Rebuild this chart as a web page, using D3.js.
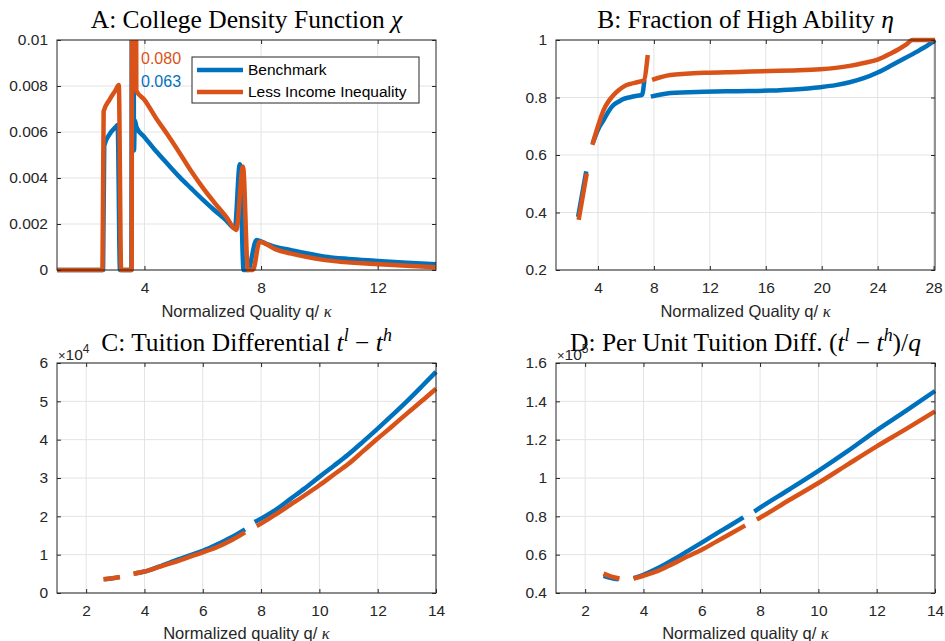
<!DOCTYPE html>
<html>
<head>
<meta charset="utf-8">
<script src="https://cdn.jsdelivr.net/npm/d3@7"></script>
<style>
  html, body { margin: 0; padding: 0; background: #fff; }
  svg { display: block; }
</style>
</head>
<body>
<svg id="chart" width="945" height="641"></svg>
<script>
// ---------------- DATA ----------------
const seriesNames = ["Benchmark", "Less Income Inequality"];

// Panel A: college density
const qA_bench = [1, 2.58, 2.62, 2.8, 3.0, 3.08, 3.16, 3.55, 3.6, 3.64, 3.67, 3.73, 4.0, 4.4, 4.8, 5.2, 5.6, 6.0, 6.4, 6.8, 7.1, 7.27, 7.4, 7.55, 7.84, 8.2, 8.5, 9.0, 9.5, 10.2, 11.0, 11.9, 13.0, 14.0];
const vA_bench = [0, 0, 0.0054, 0.0059, 0.0062, 0.0063, 0, 0, 0.063, 0.0052, 0.0065, 0.0062, 0.00578, 0.00516, 0.0046, 0.00405, 0.00355, 0.00306, 0.0026, 0.00216, 0.00181, 0.0046, 0, 0, 0.0013, 0.00113, 0.001, 0.00087, 0.00074, 0.00058, 0.00048, 0.0004, 0.00031, 0.00025];
const qA_less = [1, 2.56, 2.6, 2.8, 3.0, 3.12, 3.2, 3.56, 3.6, 3.72, 4.0, 4.4, 4.8, 5.2, 5.6, 6.0, 6.4, 6.8, 7.15, 7.38, 7.55, 7.72, 7.95, 8.5, 9.0, 10.2, 11.9, 13.0, 14.0];
const vA_less = [0, 0, 0.0069, 0.0074, 0.0078, 0.00804, 0, 0, 0.080, 0.0078, 0.0074, 0.0066, 0.00587, 0.0051, 0.0043, 0.00358, 0.00293, 0.00232, 0.00174, 0.0045, 0, 0, 0.00123, 0.0009, 0.00072, 0.00043, 0.00026, 0.00018, 0.00012];
const peakLabels = ["0.080", "0.063"];

// Panel B: fraction of high ability (null = gap)
const qB_bench = [2.58, 3.16, 3.4, 3.62, 4.0, 4.41, 4.8, 5.12, 5.5, 5.84, 6.3, 6.8, 7.15, 7.32, 7.5, 7.78, 9.2, 11.6, 14.0, 16.3, 18.0, 19.9, 21.0, 22.0, 23.0, 24.0, 25.0, 26.0, 27.0, 28.0, 28.1];
const vB_bench = [0.385, 0.543, null, 0.64, 0.688, 0.722, 0.755, 0.774, 0.786, 0.795, 0.801, 0.806, 0.809, 0.861, null, 0.803, 0.816, 0.820, 0.822, 0.824, 0.828, 0.836, 0.843, 0.853, 0.867, 0.887, 0.912, 0.938, 0.965, 0.996, 1.0];
const qB_less = [2.62, 3.2, 3.4, 3.6, 4.0, 4.41, 4.8, 5.12, 5.5, 5.84, 6.3, 6.8, 7.27, 7.56, 7.7, 7.87, 9.18, 11.6, 14.0, 16.3, 18.0, 19.9, 21.0, 22.0, 23.0, 24.0, 25.0, 25.5, 26.0, 26.5, 27.3, 28.1];
const vB_less = [0.374, 0.536, null, 0.635, 0.70, 0.757, 0.79, 0.809, 0.826, 0.838, 0.847, 0.853, 0.859, 0.948, null, 0.861, 0.878, 0.886, 0.889, 0.892, 0.894, 0.898, 0.903, 0.91, 0.92, 0.932, 0.955, 0.968, 0.983, 1.0, 1.0, 1.0];

// Panel C: tuition differential (x 10^4)
const qC_bench = [2.62, 2.9, 3.15, 3.4, 3.65, 4.0, 4.5, 5.0, 5.5, 6.0, 6.5, 7.0, 7.45, 7.6, 7.78, 8.0, 8.5, 9.0, 9.5, 10.0, 10.5, 11.0, 11.5, 12.0, 12.5, 13.0, 13.5, 14.0];
const vC_bench = [0.36, 0.385, 0.415, null, 0.51, 0.56, 0.69, 0.83, 0.97, 1.10, 1.27, 1.46, 1.66, null, 1.85, 1.94, 2.17, 2.45, 2.73, 3.03, 3.32, 3.62, 3.95, 4.29, 4.64, 5.0, 5.38, 5.77];
const qC_less = [2.59, 2.9, 3.16, 3.4, 3.62, 4.0, 4.5, 5.0, 5.5, 6.0, 6.5, 7.0, 7.45, 7.6, 7.85, 8.0, 8.5, 9.0, 9.5, 10.0, 10.5, 11.0, 11.5, 12.0, 12.5, 13.0, 13.5, 14.0];
const vC_less = [0.357, 0.385, 0.417, null, 0.50, 0.56, 0.68, 0.80, 0.93, 1.06, 1.20, 1.38, 1.58, null, 1.75, 1.81, 2.05, 2.30, 2.55, 2.81, 3.09, 3.37, 3.70, 4.03, 4.35, 4.68, 5.00, 5.33];

// Panel D: per unit tuition differential (x 10^5)
const qD_bench = [2.63, 2.9, 3.15, 3.4, 3.66, 4.0, 4.5, 5.0, 5.5, 6.0, 6.5, 7.0, 7.43, 7.6, 7.8, 8.0, 9.0, 10.0, 11.0, 12.0, 13.0, 14.0];
const vD_bench = [0.49, 0.478, 0.471, null, 0.477, 0.495, 0.53, 0.572, 0.617, 0.663, 0.71, 0.755, 0.795, null, 0.825, 0.845, 0.94, 1.037, 1.14, 1.249, 1.35, 1.454];
const qD_less = [2.63, 2.9, 3.18, 3.4, 3.66, 4.0, 4.5, 5.0, 5.5, 6.0, 6.5, 7.0, 7.49, 7.7, 7.89, 8.0, 9.0, 10.0, 11.0, 12.0, 13.0, 14.0];
const vD_less = [0.501, 0.485, 0.476, null, 0.475, 0.49, 0.515, 0.552, 0.59, 0.626, 0.668, 0.71, 0.752, null, 0.784, 0.793, 0.885, 0.974, 1.07, 1.165, 1.255, 1.348];

// Tick values / labels
const xTicksA = [4, 8, 12];
const yTicksA = [0, 0.002, 0.004, 0.006, 0.008, 0.01];
const yLabelsA = ["0", "0.002", "0.004", "0.006", "0.008", "0.01"];
const xTicksB = [4, 8, 12, 16, 20, 24, 28];
const yTicksB = [0.2, 0.4, 0.6, 0.8, 1];
const yLabelsB = ["0.2", "0.4", "0.6", "0.8", "1"];
const xTicksCD = [2, 4, 6, 8, 10, 12, 14];
const yTicksC = [0, 1, 2, 3, 4, 5, 6];
const yLabelsC = ["0", "1", "2", "3", "4", "5", "6"];
const yTicksD = [0.4, 0.6, 0.8, 1.0, 1.2, 1.4, 1.6];
const yLabelsD = ["0.4", "0.6", "0.8", "1", "1.2", "1.4", "1.6"];

// ---------------- DRAWING ----------------
const COLORS = ["#0072BD", "#D95319"];
const AXIS = "#262626";
const GRID = "#e3e3e3";
const SANS = "'Liberation Sans', Arial, Helvetica, sans-serif";
const SERIF = "'Liberation Serif', 'Times New Roman', serif";
const TITLE_SIZE = 25.5;
const svg = d3.select("#chart");

function richText(sel, parts, size) {
  parts.forEach(p => {
    const t = sel.append("tspan").text(p.t);
    if (p.it) t.attr("font-style", "italic");
    if (p.sup) { t.attr("font-size", size * 0.7).attr("dy", -size * 0.38); }
    if (p.down) { t.attr("dy", size * 0.38); }
  });
}

function panel(cfg) {
  const {x0, x1, y0, y1, id} = cfg;
  const x = d3.scaleLinear().domain(cfg.xDomain).range([x0, x1]);
  const y = d3.scaleLinear().domain(cfg.yDomain).range([y1, y0]);
  const g = svg.append("g");

  // grid
  g.append("g").selectAll("line").data(cfg.xTicks).join("line")
    .attr("x1", d => x(d)).attr("x2", d => x(d)).attr("y1", y0).attr("y2", y1)
    .attr("stroke", GRID).attr("stroke-width", 1);
  g.append("g").selectAll("line").data(cfg.yTicks).join("line")
    .attr("x1", x0).attr("x2", x1).attr("y1", d => y(d)).attr("y2", d => y(d))
    .attr("stroke", GRID).attr("stroke-width", 1);

  // clip
  const pad = cfg.clipPad;
  svg.append("clipPath").attr("id", "clip" + id).append("rect")
    .attr("x", x0 - 3).attr("y", y0 - pad).attr("width", x1 - x0 + 6).attr("height", y1 - y0 + pad + 3);

  const line = d3.line().defined(d => d[1] !== null).x(d => x(d[0])).y(d => y(d[1]))
    .curve(d3.curveMonotoneX);
  const lg = g.append("g").attr("clip-path", `url(#clip${id})`);
  cfg.series.forEach((s, i) => {
    const pts = s.q.map((q, k) => [q, s.v[k]]);
    lg.append("path").attr("d", line(pts)).attr("fill", "none")
      .attr("stroke", COLORS[i]).attr("stroke-width", 4.5)
      .attr("stroke-linejoin", "round").attr("stroke-linecap", "butt");
  });

  // axes
  const fmtY = d => cfg.yLabels[cfg.yTicks.indexOf(d)];
  const ax = g.append("g").attr("font-family", SANS);
  ax.append("g").attr("transform", `translate(0,${y1})`)
    .call(d3.axisBottom(x).tickValues(cfg.xTicks).tickSizeInner(-4).tickSizeOuter(0).tickPadding(12).tickFormat(d3.format("d")));
  ax.append("g").attr("transform", `translate(${x0},0)`)
    .call(d3.axisLeft(y).tickValues(cfg.yTicks).tickSizeInner(-4).tickSizeOuter(0).tickPadding(9).tickFormat(fmtY));
  ax.append("g").attr("transform", `translate(0,${y0})`)
    .call(d3.axisTop(x).tickValues(cfg.xTicks).tickSizeInner(-4).tickSizeOuter(0).tickFormat(""));
  ax.append("g").attr("transform", `translate(${x1},0)`)
    .call(d3.axisRight(y).tickValues(cfg.yTicks).tickSizeInner(-4).tickSizeOuter(0).tickFormat(""));
  ax.selectAll(".domain").remove();
  ax.selectAll(".tick line").attr("stroke", AXIS);
  ax.selectAll(".tick text").attr("fill", AXIS).attr("font-size", 15.5).attr("font-family", SANS);
  g.append("rect").attr("x", x0).attr("y", y0).attr("width", x1 - x0).attr("height", y1 - y0)
    .attr("fill", "none").attr("stroke", AXIS).attr("stroke-width", 1);

  // x label
  const xl = g.append("text").attr("x", (x0 + x1) / 2).attr("y", cfg.xLabelY)
    .attr("text-anchor", "middle").attr("fill", AXIS).attr("font-size", 16.5).attr("font-family", SANS);
  xl.append("tspan").text(cfg.xLabel);
  xl.append("tspan").text("κ").attr("font-family", SERIF).attr("font-style", "italic");

  // title
  const tt = g.append("text").attr("x", (x0 + x1) / 2).attr("y", cfg.titleY)
    .attr("text-anchor", "middle").attr("fill", "#000").attr("font-size", TITLE_SIZE).attr("font-family", SERIF);
  richText(tt, cfg.title, TITLE_SIZE);

  // exponent
  if (cfg.exponent) {
    const ex = g.append("text").attr("x", x0 + 1).attr("y", y0 - 3)
      .attr("fill", AXIS).attr("font-size", 15.5).attr("font-family", SANS);
    ex.append("tspan").text("×").attr("font-size", 13);
    ex.append("tspan").text("10");
    ex.append("tspan").text(cfg.exponent).attr("font-size", 12).attr("dy", -7);
  }
  return {x, y, g};
}

const A = panel({
  id: "A", x0: 57, x1: 436, y0: 40, y1: 270, xDomain: [1, 14], yDomain: [0, 0.01],
  xTicks: xTicksA, yTicks: yTicksA, yLabels: yLabelsA, clipPad: 0,
  series: [{q: qA_bench, v: vA_bench}, {q: qA_less, v: vA_less}],
  xLabel: "Normalized Quality q/ ", xLabelY: 317, titleY: 28,
  title: [{t: "A: College Density Function "}, {t: "χ", it: true}]
});
const B = panel({
  id: "B", x0: 556, x1: 935, y0: 40, y1: 270, xDomain: [1, 28.1], yDomain: [0.2, 1],
  xTicks: xTicksB, yTicks: yTicksB, yLabels: yLabelsB, clipPad: 3,
  series: [{q: qB_bench, v: vB_bench}, {q: qB_less, v: vB_less}],
  xLabel: "Normalized Quality q/ ", xLabelY: 317, titleY: 28,
  title: [{t: "B: Fraction of High Ability "}, {t: "η", it: true}]
});
const C = panel({
  id: "C", x0: 57, x1: 436, y0: 363, y1: 593, xDomain: [1, 14], yDomain: [0, 6],
  xTicks: xTicksCD, yTicks: yTicksC, yLabels: yLabelsC, clipPad: 3,
  series: [{q: qC_bench, v: vC_bench}, {q: qC_less, v: vC_less}],
  xLabel: "Normalized quality q/ ", xLabelY: 639, titleY: 351, exponent: "4",
  title: [{t: "C: Tuition Differential "}, {t: "t", it: true}, {t: "l", it: true, sup: true},
          {t: " − ", down: true}, {t: "t", it: true}, {t: "h", it: true, sup: true}]
});
const D = panel({
  id: "D", x0: 556, x1: 935, y0: 363, y1: 593, xDomain: [1, 14], yDomain: [0.4, 1.6],
  xTicks: xTicksCD, yTicks: yTicksD, yLabels: yLabelsD, clipPad: 3,
  series: [{q: qD_bench, v: vD_bench}, {q: qD_less, v: vD_less}],
  xLabel: "Normalized quality q/ ", xLabelY: 639, titleY: 351, exponent: "5",
  title: [{t: "D: Per Unit Tuition Diff. ("}, {t: "t", it: true}, {t: "l", it: true, sup: true},
          {t: " − ", down: true}, {t: "t", it: true}, {t: "h", it: true, sup: true},
          {t: ")/", down: true}, {t: "q", it: true}]
});

// Panel A annotations of off-scale peaks
A.g.append("text").attr("x", 141).attr("y", 64).attr("fill", COLORS[1])
  .attr("font-size", 16).attr("font-family", SANS).text(peakLabels[0]);
A.g.append("text").attr("x", 141).attr("y", 87).attr("fill", COLORS[0])
  .attr("font-size", 16).attr("font-family", SANS).text(peakLabels[1]);

// Legend (panel A)
const leg = A.g.append("g");
leg.append("rect").attr("x", 192).attr("y", 57).attr("width", 227).attr("height", 46)
  .attr("fill", "#fff").attr("stroke", AXIS).attr("stroke-width", 1);
seriesNames.forEach((name, i) => {
  const yy = 70 + i * 22;
  leg.append("line").attr("x1", 197).attr("x2", 243).attr("y1", yy).attr("y2", yy)
    .attr("stroke", COLORS[i]).attr("stroke-width", 4.5);
  leg.append("text").attr("x", 248).attr("y", yy).attr("dy", "0.35em")
    .attr("font-size", 15.5).attr("font-family", SANS).attr("fill", "#000").text(name);
});
</script>
</body>
</html>
